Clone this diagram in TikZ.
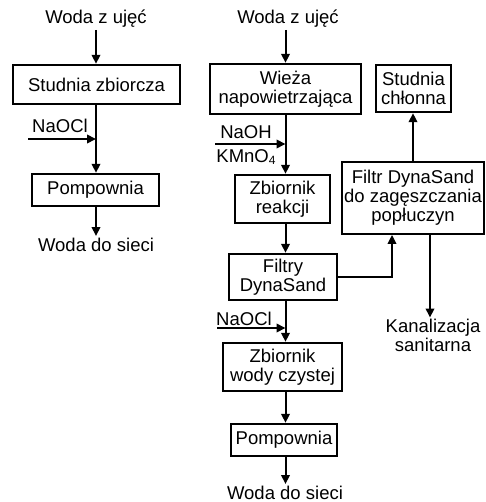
\documentclass[tikz,border=0pt]{standalone}
\usepackage{fontspec}
\setmainfont{Liberation Sans}
\usetikzlibrary{arrows.meta}
\begin{document}
\begin{tikzpicture}[x=1pt,y=-1pt,
  every node/.style={font=\fontsize{18.5}{19}\selectfont, align=center, inner sep=0pt},
  box/.style={draw, line width=2.4pt, minimum width=#1},
  thinbox/.style={draw, line width=1.8pt, minimum width=#1},
  arr/.style={line width=2pt, -{Triangle[length=9pt,width=8.5pt]}}]
\useasboundingbox (0,0) rectangle (485,502);
% left column
\node (in1) at (96,19) {Woda z ujęć};
\node[box=167pt, minimum height=39pt] (sz) at (96.5,84.5) {Studnia zbiorcza};
\node[box=127pt, minimum height=32pt] (p1) at (95.5,190) {Pompownia};
\node (out1) at (96,245) {Woda do sieci};
\node (naocl1) at (60,126) {NaOCl};
\coordinate (lc) at (96,0);
\coordinate (na1s) at (28,139);
\coordinate (na1e) at (96,139);
\draw[arr] ([yshift=-2pt]in1.south -| lc) -- (sz.north -| lc);
\draw[arr] (sz.south -| lc) -- (p1.north -| lc);
\draw[arr] (na1s) -- (na1e);
\draw[arr] (p1.south -| lc) -- ([yshift=2pt]out1.north -| lc);
% right main column
\coordinate (rc) at (285.5,0);
\node (in2) at (288,19) {Woda z ujęć};
\node[box=151pt, minimum height=50pt] (wz) at (285.5,89) {Wieża\\napowietrzająca};
\node[box=95pt, minimum height=48pt] (zr) at (282.5,199) {Zbiornik\\reakcji};
\node[box=108pt, minimum height=46pt] (fd) at (283,277) {Filtry\\DynaSand};
\node[box=119pt, minimum height=48pt] (zw) at (282.5,367) {Zbiornik\\wody czystej};
\node[box=106pt, minimum height=32pt] (p2) at (284,440) {Pompownia};
\node (out2) at (285,493) {Woda do sieci};
\node (naoh) at (246,132) {NaOH};
\node (kmno) at (246,157) {KMnO\raisebox{-0.15ex}{\fontsize{12}{12}\selectfont 4}};
\node (naocl2) at (244,319) {NaOCl};
\coordinate (nh1) at (215,144);
\coordinate (nh2) at (285.5,144);
\coordinate (nc1) at (217,328);
\coordinate (nc2) at (285.5,328);
\draw[arr] ([yshift=-2pt]in2.south -| rc) -- (wz.north -| rc);
\draw[arr] (wz.south -| rc) -- (zr.north -| rc);
\draw[arr] (nh1) -- (nh2);
\draw[arr] (zr.south -| rc) -- (fd.north -| rc);
\draw[arr] (fd.south -| rc) -- (zw.north -| rc);
\draw[arr] (nc1) -- (nc2);
\draw[arr] (zw.south -| rc) -- (p2.north -| rc);
\draw[arr] (p2.south -| rc) -- ([yshift=2pt]out2.north -| rc);
% right side
\node[box=75pt, minimum height=47pt] (sc) at (413.5,88.5) {Studnia\\chłonna};
\node[thinbox=142pt, minimum height=72pt] (fz) at (413,198) {Filtr DynaSand\\do zagęszczania\\popłuczyn};
\node (kan) at (433,335) {Kanalizacja\\sanitarna};
\coordinate (c1) at (392,0);
\coordinate (c2) at (413,0);
\coordinate (c3) at (430,0);
\draw[arr] (fd.east) -| (fz.south -| c1);
\draw[arr] (fz.north -| c2) -- (sc.south -| c2);
\draw[arr] (fz.south -| c3) -- ([yshift=1pt]kan.north -| c3);
\end{tikzpicture}
\end{document}
